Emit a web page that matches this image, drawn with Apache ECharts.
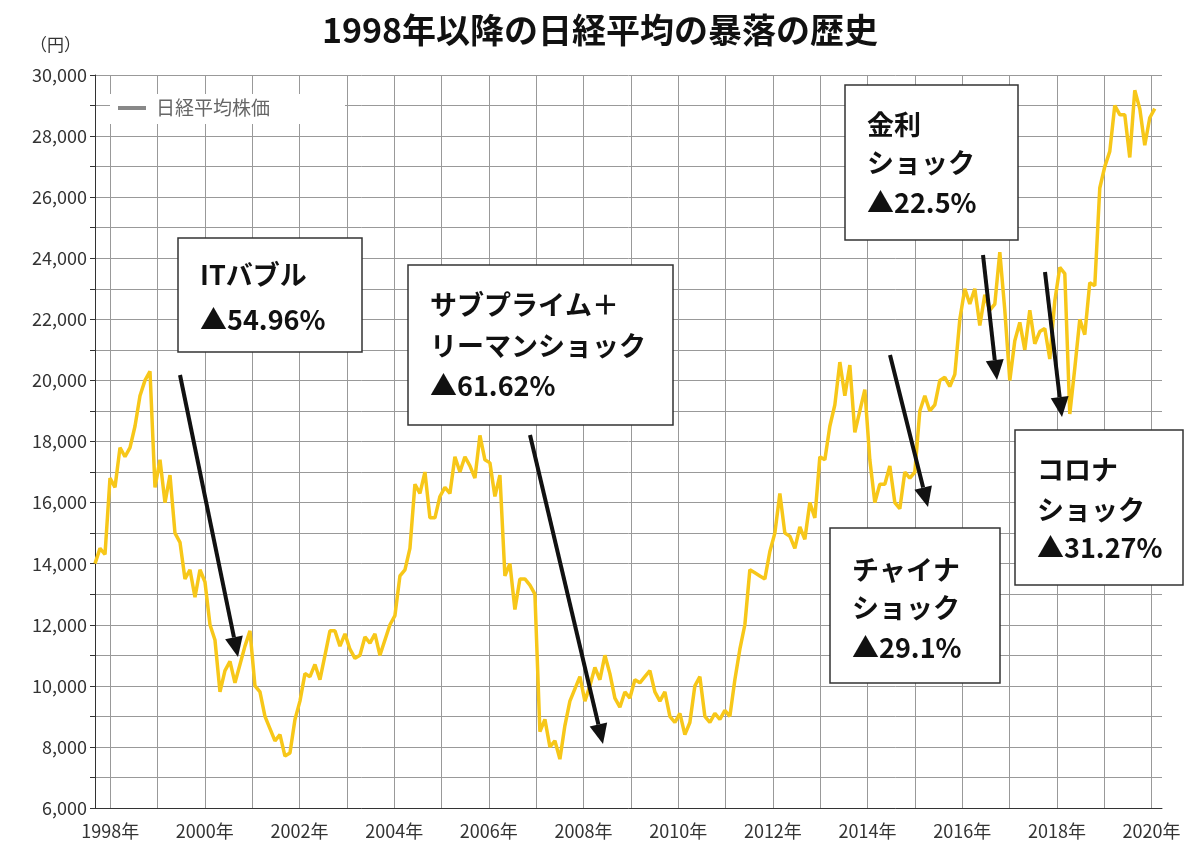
<!DOCTYPE html>
<html><head><meta charset="utf-8">
<script src="https://cdn.jsdelivr.net/npm/echarts@6/dist/echarts.min.js"></script>
<style>html,body{margin:0;background:#fff}#c{width:1200px;height:865px}</style>
</head><body><div id="c"></div>
<script>
// Nikkei average, sampled at equal steps (~1.27 months) from the chart
const startYear = 1997.68;
const stepYear = 0.1056;
const nikkei = [14000,14500,14300,16800,16500,17800,17500,17800,18500,19500,20000,20300,16500,17400,16000,16900,15000,14700,13500,13800,12900,13800,13400,12000,11500,9800,10500,10800,10100,10700,11300,11800,10000,9800,9000,8600,8200,8400,7700,7800,8900,9500,10400,10300,10700,10200,11000,11800,11800,11300,11700,11200,10900,11000,11600,11400,11700,11000,11500,12000,12300,13600,13800,14500,16600,16300,17000,15500,15500,16200,16500,16300,17500,17000,17500,17200,16800,18200,17400,17300,16200,16900,13600,14000,12500,13500,13500,13300,13000,8500,8900,8000,8200,7600,8700,9500,9900,10300,9500,10000,10600,10200,11000,10400,9600,9300,9800,9600,10200,10100,10300,10500,9800,9500,9800,9000,8800,9100,8400,8800,10000,10300,9000,8800,9100,8900,9200,9000,10200,11200,12000,13800,13700,13600,13500,14400,15000,16300,15000,14900,14500,15200,14800,16000,15500,17500,17400,18500,19200,20600,19500,20500,18300,19000,19700,17400,16000,16600,16600,17200,16000,15800,17000,16800,17000,19000,19500,19000,19200,20000,20100,19800,20200,22000,23000,22500,23000,21800,22800,22300,22500,24200,22300,20000,21300,21900,21000,22300,21200,21600,21700,20700,22600,23700,23500,18900,20400,22000,21500,23200,23100,26300,27000,27500,29000,28700,28700,27300,29500,28900,27700,28600,28900];
const yearTicks = [1998,1999,2000,2001,2002,2003,2004,2005,2006,2007,2008,2009,2010,2011,2012,2013,2014,2015,2016,2017,2018,2019,2020];
const yearLabels = [1998,2000,2002,2004,2006,2008,2010,2012,2014,2016,2018,2020];

const seriesData = nikkei.map((v, i) => [startYear + i * stepYear, v]);
const chart = echarts.init(document.getElementById('c'));

function box(x, y, w, h, lines, ys) {
  const els = [{type:'rect', shape:{x:x, y:y, width:w, height:h}, style:{fill:'#fff', stroke:'#333', lineWidth:1.5}, z:10}];
  lines.forEach((t, i) => els.push({type:'text', x:x + 22, y:ys[i], z:11,
    style:{text:t, font:'bold 27px "Noto Sans CJK JP"', fill:'#111', verticalAlign:'middle'}}));
  return els;
}
function arrow(x1, y1, x2, y2) {
  const a = Math.atan2(y2 - y1, x2 - x1), L = 20, W = 9;
  const bx = x2 - L * Math.cos(a), by = y2 - L * Math.sin(a);
  return [
    {type:'line', shape:{x1:x1, y1:y1, x2:bx, y2:by}, style:{stroke:'#111', lineWidth:4}, z:12},
    {type:'polygon', shape:{points:[[x2, y2], [bx + W * Math.sin(a), by - W * Math.cos(a)], [bx - W * Math.sin(a), by + W * Math.cos(a)]]}, style:{fill:'#111'}, z:12}
  ];
}

chart.setOption({
  animation: false,
  title: {text:'1998年以降の日経平均の暴落の歴史', left:'center', top:8,
    textStyle:{fontSize:34, fontWeight:'bold', color:'#111', fontFamily:'Noto Sans CJK JP'}},
  grid: {left:95, right:38, top:75, bottom:57},
  xAxis: {type:'value', min:startYear, max:2020.22,
    axisLine:{lineStyle:{color:'#333'}},
    axisTick:{show:false, customValues:yearTicks},
    axisLabel:{customValues:yearLabels, formatter:v => v + '年', color:'#333', fontSize:18, margin:14, fontFamily:'Noto Sans CJK JP'},
    splitLine:{show:true, lineStyle:{color:'#999', width:1}}},
  yAxis: {type:'value', min:6000, max:30000, interval:1000,
    axisLine:{show:true, lineStyle:{color:'#333'}},
    axisLabel:{formatter:v => v % 2000 === 0 ? v.toLocaleString('en-US') : '', color:'#333', fontSize:18, fontFamily:'Noto Sans CJK JP'},
    splitLine:{lineStyle:{color:'#999', width:1}}},
  series: [{type:'line', data:seriesData, showSymbol:false, lineStyle:{color:'#f7c719', width:3.5}}],
  graphic: [
    {type:'text', x:30, y:36, style:{text:'（円）', font:'17px "Noto Sans CJK JP"', fill:'#333'}},
    {type:'rect', shape:{x:110, y:94, width:235, height:30}, style:{fill:'#fff'}, z:5},
    {type:'line', shape:{x1:118, y1:108, x2:146, y2:108}, style:{stroke:'#888', lineWidth:4}, z:6},
    {type:'text', x:156, y:108, z:6, style:{text:'日経平均株価', font:'19px "Noto Sans CJK JP"', fill:'#666', verticalAlign:'middle'}},
    ...box(178, 238, 184, 114, ['ITバブル', '▲54.96%'], [275, 320]),
    ...box(408, 265, 265, 160, ['サブプライム＋', 'リーマンショック', '▲61.62%'], [305, 346, 386]),
    ...box(845, 85, 173, 155, ['金利', 'ショック', '▲22.5%'], [125, 163, 203]),
    ...box(830, 528, 170, 155, ['チャイナ', 'ショック', '▲29.1%'], [570, 608, 648]),
    ...box(1015, 430, 168, 155, ['コロナ', 'ショック', '▲31.27%'], [470, 510, 548]),
    ...arrow(180, 375, 238, 657),
    ...arrow(530, 435, 603, 744),
    ...arrow(890, 355, 928, 507),
    ...arrow(983, 255, 997, 380),
    ...arrow(1045, 272, 1062, 417)
  ]
});
</script></body></html>
